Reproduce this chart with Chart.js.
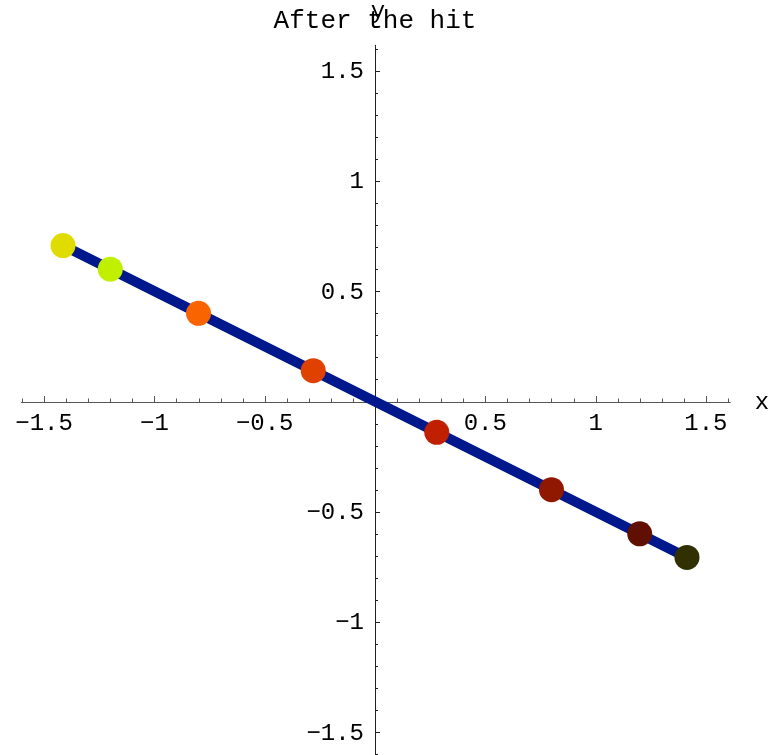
<!DOCTYPE html>
<html>
<head>
<meta charset="utf-8">
<script src="https://cdn.jsdelivr.net/npm/chart.js@4"></script>
<style>
html,body{margin:0;padding:0;background:#fff;}
#wrap{width:772px;height:755px;}
</style>
</head>
<body>
<div id="wrap"><canvas id="c" width="772" height="755"></canvas></div>
<script>
// ---- data ----
const lineX = [-1.4142, 1.4142];
const lineY = [0.7071, -0.7071];
const pointX = [-1.4142, -1.2, -0.8, -0.28, 0.28, 0.8, 1.2, 1.4142];
const pointY = [0.7071, 0.6, 0.4, 0.14, -0.14, -0.4, -0.6, -0.7071];
const pointColors = ['#e1dc00', '#c0f000', '#fa6400', '#e04000', '#c02000', '#901800', '#601000', '#303000'];
const xTickLabels = [-1.5, -1, -0.5, 0.5, 1, 1.5];
const yTickLabels = [-1.5, -1, -0.5, 0.5, 1, 1.5];
const titleText = 'After the hit';
const xLabel = 'x';
const yLabel = 'y';

const fmt = v => (v < 0 ? '\u2212' : '') + String(Math.abs(v)).replace(/^0\./, '0.');
const mono = '"Liberation Mono", "DejaVu Sans Mono", monospace';

const axesPlugin = {
  id: 'axesThroughOrigin',
  beforeDatasetsDraw(chart) {
    const ctx = chart.ctx, xs = chart.scales.x, ys = chart.scales.y;
    const x0 = xs.getPixelForValue(0), y0 = ys.getPixelForValue(0);
    ctx.save();
    ctx.lineWidth = 1;
    // x axis
    ctx.strokeStyle = '#555';
    ctx.beginPath();
    ctx.moveTo(xs.getPixelForValue(-1.605), Math.round(y0) + 0.5);
    ctx.lineTo(xs.getPixelForValue(1.612), Math.round(y0) + 0.5);
    ctx.stroke();
    for (let i = -16; i <= 16; i++) {
      const v = i / 10;
      const px = Math.round(xs.getPixelForValue(v)) + 0.5;
      const len = (i % 5 === 0) ? 6 : 3.5;
      ctx.beginPath();
      ctx.moveTo(px, Math.round(y0));
      ctx.lineTo(px, Math.round(y0) - len);
      ctx.stroke();
    }
    // y axis
    ctx.strokeStyle = '#222';
    ctx.beginPath();
    ctx.moveTo(Math.round(x0) + 0.5, ys.getPixelForValue(1.617));
    ctx.lineTo(Math.round(x0) + 0.5, ys.getPixelForValue(-1.62));
    ctx.stroke();
    for (let i = -16; i <= 16; i++) {
      const v = i / 10;
      const py = Math.round(ys.getPixelForValue(v)) + 0.5;
      const len = (i % 5 === 0) ? 5 : 3;
      ctx.beginPath();
      ctx.moveTo(Math.round(x0), py);
      ctx.lineTo(Math.round(x0) + len, py);
      ctx.stroke();
    }
    // tick labels
    ctx.fillStyle = '#000';
    ctx.font = '24px ' + mono;
    ctx.textAlign = 'center';
    ctx.textBaseline = 'middle';
    xTickLabels.forEach(v => {
      ctx.fillText(fmt(v), xs.getPixelForValue(v), y0 + 22);
    });
    ctx.textAlign = 'right';
    yTickLabels.forEach(v => {
      ctx.fillText(fmt(v), x0 - 11, ys.getPixelForValue(v) + 1);
    });
    ctx.restore();
  },
  afterDraw(chart) {
    const ctx = chart.ctx, xs = chart.scales.x, ys = chart.scales.y;
    const x0 = xs.getPixelForValue(0), y0 = ys.getPixelForValue(0);
    ctx.save();
    ctx.fillStyle = '#000';
    ctx.textBaseline = 'middle';
    ctx.textAlign = 'center';
    ctx.font = '24px ' + mono;
    ctx.fillText(xLabel, 762, y0 + 1);
    ctx.fillText(yLabel, x0 + 3, 12);
    ctx.font = '26px ' + mono;
    ctx.fillText(titleText, x0, 21);
    ctx.restore();
  }
};

const pxPerUnitX = 220.6, pxPerUnitY = 220.5, ox = 375, oy = 401.5;

new Chart(document.getElementById('c'), {
  type: 'scatter',
  data: {
    datasets: [
      {
        type: 'line',
        data: lineX.map((x, i) => ({x, y: lineY[i]})),
        borderColor: '#00188c',
        borderWidth: 10,
        pointRadius: 0,
        borderCapStyle: 'butt',
        fill: false,
        clip: false,
        order: 2
      },
      {
        type: 'scatter',
        data: pointX.map((x, i) => ({x, y: pointY[i]})),
        backgroundColor: pointColors,
        borderColor: pointColors,
        borderWidth: 0,
        pointRadius: 12.5,
        clip: false,
        order: 1
      }
    ]
  },
  options: {
    responsive: false,
    animation: false,
    layout: {padding: 0, autoPadding: false},
    plugins: {legend: {display: false}, tooltip: {enabled: false}, title: {display: false}},
    scales: {
      x: {type: 'linear', display: false, min: -ox / pxPerUnitX, max: (772 - ox) / pxPerUnitX},
      y: {type: 'linear', display: false, min: -(755 - oy) / pxPerUnitY, max: oy / pxPerUnitY}
    }
  },
  plugins: [axesPlugin]
});
</script>
</body>
</html>
